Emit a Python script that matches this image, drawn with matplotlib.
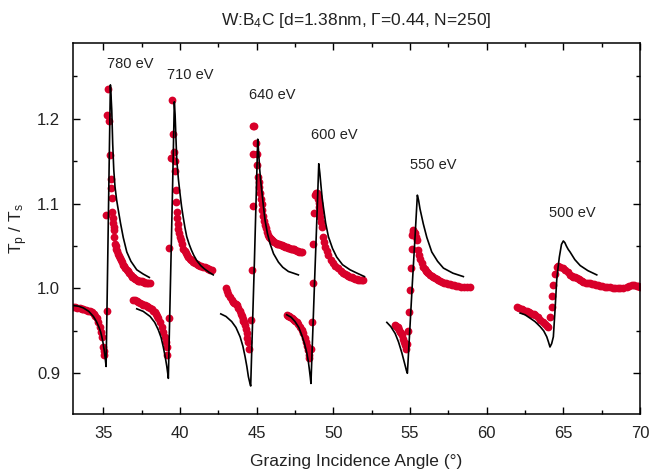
import matplotlib
matplotlib.use("Agg")
import matplotlib.pyplot as plt
from matplotlib.ticker import MultipleLocator

plt.rcParams['font.family'] = ['Liberation Sans', 'DejaVu Sans']
plt.rcParams['mathtext.fontset'] = 'custom'
plt.rcParams['mathtext.rm'] = 'Liberation Sans'
plt.rcParams['mathtext.it'] = 'Liberation Sans'

energies = ["780 eV", "710 eV", "640 eV", "600 eV", "550 eV", "500 eV"]
label_x = [36.74, 40.65, 46.04, 50.05, 56.5, 65.6]
label_y = [1.265, 1.252, 1.228, 1.181, 1.145, 1.0885]

# ---- theory (black lines) ----
fit_780_x = [33.0, 33.4, 33.7, 34.05, 34.35, 34.55, 34.7, 34.82, 34.9, 34.98, 35.05, 35.12, 35.18, 35.25, 35.32, 35.40, 35.46,
             35.50, 35.55, 35.61, 35.68, 35.76, 35.87, 35.98, 36.12, 36.3, 36.53, 36.8, 37.18, 37.6, 38.0]
fit_780_y = [0.980, 0.979, 0.977, 0.973, 0.967, 0.961, 0.955, 0.949, 0.943, 0.936, 0.928, 0.918, 0.908, 0.990, 1.074, 1.170, 1.240,
             1.228, 1.210, 1.171, 1.140, 1.120, 1.104, 1.092, 1.077, 1.060, 1.043, 1.032, 1.022, 1.017, 1.013]

fit_710_x = [37.18, 37.6, 38.05, 38.35, 38.59, 38.77, 38.91, 39.03, 39.14, 39.2, 39.24, 39.34, 39.44, 39.54, 39.63, 39.68, 39.72,
             39.79, 39.9, 40.0, 40.1, 40.2, 40.32, 40.44, 40.6, 40.75, 40.9, 41.09, 41.35, 41.6, 41.9, 42.17]
fit_710_y = [0.976, 0.973, 0.967, 0.960, 0.951, 0.942, 0.931, 0.920, 0.908, 0.900, 0.894, 0.976, 1.057, 1.140, 1.220, 1.205, 1.185,
             1.151, 1.128, 1.112, 1.097, 1.085, 1.072, 1.061, 1.052, 1.045, 1.039, 1.033, 1.027, 1.023, 1.019, 1.016]

fit_640_x = [42.66, 43.0, 43.37, 43.65, 43.92, 44.1, 44.24, 44.36, 44.46, 44.55, 44.61, 44.73, 44.85, 44.96, 45.07, 45.13, 45.2,
             45.26, 45.33, 45.44, 45.55, 45.7, 45.87, 46.1, 46.42, 46.7, 47.07, 47.4, 47.72]
fit_640_y = [0.970, 0.967, 0.961, 0.954, 0.943, 0.932, 0.920, 0.908, 0.896, 0.889, 0.885, 0.958, 1.030, 1.103, 1.176, 1.160, 1.140,
             1.127, 1.116, 1.097, 1.080, 1.065, 1.053, 1.041, 1.031, 1.025, 1.020, 1.018, 1.016]

fit_600_x = [46.96, 47.25, 47.5, 47.75, 47.94, 48.12, 48.27, 48.37, 48.44, 48.5, 48.54, 48.67, 48.8, 48.93, 49.05, 49.12, 49.2,
             49.27, 49.35, 49.5, 49.68, 49.95, 50.22, 50.6, 51.09, 51.55, 52.03]
fit_600_y = [0.969, 0.966, 0.961, 0.954, 0.945, 0.935, 0.924, 0.914, 0.904, 0.895, 0.888, 0.954, 1.020, 1.084, 1.147, 1.136, 1.120,
             1.107, 1.096, 1.077, 1.061, 1.047, 1.037, 1.028, 1.022, 1.018, 1.014]

fit_550_x = [53.49, 53.75, 54.03, 54.25, 54.47, 54.6, 54.7, 54.77, 54.83, 54.99, 55.15, 55.32, 55.48, 55.56, 55.65, 55.76, 55.87,
             56.1, 56.42, 56.8, 57.18, 57.8, 58.48]
fit_550_y = [0.960, 0.955, 0.947, 0.937, 0.924, 0.915, 0.908, 0.903, 0.900, 0.952, 1.005, 1.058, 1.110, 1.104, 1.094, 1.085, 1.076,
             1.060, 1.043, 1.032, 1.024, 1.018, 1.014]

fit_500_x = [62.18, 62.5, 62.83, 63.15, 63.49, 63.72, 63.92, 64.03, 64.13, 64.24, 64.35, 64.46, 64.57, 64.66, 64.74, 64.88, 65.0,
             65.1, 65.2, 65.32, 65.44, 65.75, 66.1, 66.6, 67.18]
fit_500_y = [0.971, 0.969, 0.965, 0.961, 0.955, 0.950, 0.943, 0.937, 0.931, 0.935, 0.943, 0.975, 1.010, 1.025, 1.037, 1.052, 1.056,
             1.054, 1.050, 1.046, 1.043, 1.034, 1.027, 1.021, 1.016]

# ---- measurements (red dots) ----
meas_780_x = [33.04, 33.17, 33.3, 33.45, 33.58, 33.7, 33.85, 34.0, 34.12, 34.24, 34.36, 34.47, 34.57, 34.68, 34.78, 34.86, 34.93,
              35.0, 35.04, 35.07, 35.22, 35.18, 35.33, 35.26, 35.37, 35.44, 35.48, 35.51, 35.55, 35.59, 35.62, 35.65, 35.68,
              35.70, 35.72, 35.76, 35.8, 35.85, 35.92, 35.98, 36.04, 36.1, 36.15, 36.2, 36.28, 36.35, 36.44, 36.53, 36.62,
              36.7, 36.78, 36.85, 36.92, 37.0, 37.09, 37.18, 37.27, 37.35, 37.42, 37.5, 37.58, 37.65, 37.74, 37.83, 37.94,
              38.05]
meas_780_y = [0.978, 0.978, 0.977, 0.977, 0.976, 0.976, 0.975, 0.974, 0.973, 0.972, 0.970, 0.968, 0.965, 0.960, 0.955, 0.949, 0.943,
              0.931, 0.926, 0.922, 0.974, 1.087, 1.235, 1.205, 1.197, 1.157, 1.129, 1.118, 1.107, 1.090, 1.083, 1.077, 1.073,
              1.069, 1.061, 1.053, 1.050, 1.047, 1.044, 1.041, 1.038, 1.036, 1.033, 1.031, 1.028, 1.026, 1.024, 1.022, 1.020,
              1.018, 1.016, 1.014, 1.013, 1.012, 1.011, 1.010, 1.009, 1.009, 1.009, 1.009, 1.008, 1.008, 1.007, 1.007, 1.007,
              1.007]

meas_710_x = [36.96, 37.07, 37.18, 37.28, 37.39, 37.5, 37.6, 37.72, 37.83, 37.94, 38.05, 38.16, 38.26, 38.36, 38.45, 38.52, 38.59,
              38.7, 38.81, 38.92, 39.02, 39.08, 39.14, 39.18, 39.29, 39.31, 39.40, 39.46, 39.57, 39.61, 39.65, 39.68, 39.72,
              39.74, 39.79, 39.82, 39.85, 39.9, 39.94, 40.0, 40.05, 40.13, 40.22, 40.3, 40.38, 40.46, 40.54, 40.62, 40.7,
              40.78, 40.87, 40.98, 41.1, 41.2, 41.31, 41.4, 41.5, 41.62, 41.74, 41.82, 41.9, 41.98, 42.07]
meas_710_y = [0.986, 0.986, 0.985, 0.984, 0.983, 0.982, 0.981, 0.980, 0.979, 0.978, 0.977, 0.976, 0.974, 0.972, 0.970, 0.968, 0.965,
              0.960, 0.955, 0.949, 0.943, 0.937, 0.931, 0.922, 0.965, 1.048, 1.154, 1.222, 1.182, 1.161, 1.150, 1.139, 1.116,
              1.102, 1.090, 1.083, 1.076, 1.070, 1.065, 1.061, 1.057, 1.052, 1.047, 1.044, 1.042, 1.040, 1.037, 1.035, 1.034,
              1.033, 1.031, 1.030, 1.029, 1.028, 1.027, 1.026, 1.025, 1.025, 1.024, 1.023, 1.023, 1.022, 1.022]

meas_640_x = [43.0, 43.08, 43.15, 43.26, 43.37, 43.46, 43.55, 43.62, 43.7, 43.81, 43.92, 43.98, 44.03, 44.09, 44.14, 44.19, 44.24,
              44.3, 44.35, 44.4, 44.46, 44.52, 44.63, 44.68, 44.74, 44.78, 44.85, 44.94, 44.78, 45.0, 45.05, 45.11, 45.15,
              45.18, 45.22, 45.27, 45.32, 45.37, 45.42, 45.48, 45.55, 45.61, 45.68, 45.76, 45.82, 45.87, 45.92, 45.98, 46.06,
              46.15, 46.23, 46.31, 46.4, 46.48, 46.56, 46.64, 46.72, 46.8, 46.88, 46.96, 47.05, 47.13, 47.21, 47.29, 47.37,
              47.45, 47.53, 47.61, 47.7, 47.78, 47.86, 47.94]
meas_640_y = [1.000, 0.997, 0.994, 0.990, 0.986, 0.984, 0.983, 0.982, 0.980, 0.977, 0.974, 0.970, 0.967, 0.964, 0.962, 0.960, 0.957,
              0.952, 0.947, 0.942, 0.937, 0.929, 0.963, 1.022, 1.097, 1.192, 1.192, 1.172, 1.159, 1.158, 1.145, 1.131, 1.125,
              1.120, 1.113, 1.106, 1.099, 1.092, 1.086, 1.080, 1.075, 1.071, 1.067, 1.063, 1.061, 1.060, 1.058, 1.057, 1.056,
              1.055, 1.054, 1.053, 1.052, 1.052, 1.051, 1.051, 1.050, 1.050, 1.049, 1.049, 1.048, 1.048, 1.047, 1.047, 1.046,
              1.046, 1.045, 1.044, 1.044, 1.043, 1.043, 1.043]

meas_600_x = [46.96, 47.04, 47.12, 47.2, 47.29, 47.37, 47.45, 47.53, 47.61, 47.72, 47.83, 47.94, 48.04, 48.13, 48.22, 48.28, 48.33,
              48.39, 48.44, 48.53, 48.59, 48.66, 48.70, 48.77, 48.83, 48.88, 48.94, 48.98, 49.03, 49.06, 49.09, 49.12, 49.16,
              49.2, 49.25, 49.31, 49.38, 49.46, 49.57, 49.68, 49.82, 49.96, 50.12, 50.29, 50.47, 50.65, 50.76, 50.87, 50.98,
              51.09, 51.2, 51.31, 51.42, 51.53, 51.64, 51.75, 51.86, 51.96]
meas_600_y = [0.969, 0.968, 0.967, 0.966, 0.965, 0.964, 0.963, 0.962, 0.961, 0.958, 0.955, 0.951, 0.947, 0.942, 0.937, 0.932, 0.927,
              0.922, 0.918, 0.929, 0.961, 1.006, 1.052, 1.089, 1.110, 1.112, 1.112, 1.109, 1.106, 1.101, 1.096, 1.090, 1.084,
              1.078, 1.072, 1.061, 1.055, 1.049, 1.044, 1.039, 1.034, 1.030, 1.027, 1.024, 1.021, 1.018, 1.017, 1.016, 1.015,
              1.014, 1.013, 1.012, 1.011, 1.011, 1.010, 1.010, 1.010, 1.010]

meas_550_x = [54.03, 54.09, 54.14, 54.19, 54.24, 54.3, 54.36, 54.42, 54.47, 54.55, 54.62, 54.69, 54.75, 54.83, 54.90, 54.96, 55.00,
              55.05, 55.11, 55.16, 55.19, 55.22, 55.27, 55.33, 55.38, 55.44, 55.50, 55.57, 55.65, 55.76, 55.87, 55.95, 56.03,
              56.12, 56.2, 56.31, 56.42, 56.53, 56.64, 56.75, 56.85, 56.96, 57.07, 57.2, 57.35, 57.48, 57.62, 57.76, 57.9,
              58.03, 58.16, 58.33, 58.5, 58.7, 58.92]
meas_550_y = [0.957, 0.956, 0.955, 0.954, 0.953, 0.951, 0.949, 0.947, 0.945, 0.941, 0.937, 0.933, 0.929, 0.935, 0.950, 0.972, 0.998,
              1.024, 1.047, 1.063, 1.067, 1.069, 1.067, 1.065, 1.061, 1.057, 1.045, 1.040, 1.035, 1.030, 1.025, 1.023, 1.021,
              1.019, 1.018, 1.016, 1.015, 1.013, 1.012, 1.011, 1.010, 1.009, 1.008, 1.007, 1.006, 1.005, 1.005, 1.004, 1.004,
              1.003, 1.003, 1.002, 1.002, 1.002, 1.002]

meas_500_x = [61.97, 62.13, 62.29, 62.4, 62.5, 62.62, 62.73, 62.84, 62.95, 63.06, 63.16, 63.32, 63.49, 63.65, 63.82, 63.93, 64.03,
              64.14, 64.25, 64.29, 64.35, 64.46, 64.57, 64.68, 64.79, 64.95, 65.12, 65.28, 65.44, 65.55, 65.66, 65.77, 65.88,
              65.99, 66.1, 66.2, 66.31, 66.45, 66.6, 66.73, 66.86, 67.0, 67.13, 67.26, 67.4, 67.55, 67.7, 67.88, 68.05, 68.22,
              68.4, 68.55, 68.71, 68.92, 69.14, 69.3, 69.47, 69.63, 69.8, 69.9, 70.0]
meas_500_y = [0.978, 0.977, 0.976, 0.975, 0.974, 0.973, 0.972, 0.971, 0.970, 0.970, 0.969, 0.966, 0.963, 0.960, 0.958, 0.956, 0.955,
              0.966, 0.978, 0.991, 1.004, 1.017, 1.025, 1.026, 1.025, 1.024, 1.022, 1.019, 1.016, 1.015, 1.014, 1.013, 1.012,
              1.011, 1.010, 1.009, 1.008, 1.007, 1.006, 1.006, 1.005, 1.005, 1.004, 1.004, 1.003, 1.003, 1.002, 1.002, 1.002,
              1.001, 1.001, 1.001, 1.001, 1.001, 1.002, 1.003, 1.004, 1.004, 1.003, 1.003, 1.002]

fits = [(fit_780_x, fit_780_y), (fit_710_x, fit_710_y), (fit_640_x, fit_640_y),
        (fit_600_x, fit_600_y), (fit_550_x, fit_550_y), (fit_500_x, fit_500_y)]
meas = [(meas_780_x, meas_780_y), (meas_710_x, meas_710_y), (meas_640_x, meas_640_y),
        (meas_600_x, meas_600_y), (meas_550_x, meas_550_y), (meas_500_x, meas_500_y)]

fig = plt.figure(figsize=(6.5, 4.74), dpi=100)
ax = fig.add_axes([0.1118, 0.1266, 0.8728, 0.782])

red = '#d8002a'
for mx, my in meas:
    ax.plot(mx, my, 'o', color=red, ms=5.6, mec='none', zorder=2)
for fx, fy in fits:
    ax.plot(fx, fy, '-', color='black', lw=1.2, zorder=3)

for lab, lx, ly in zip(energies, label_x, label_y):
    ax.text(lx, ly, lab, ha='center', va='center', fontsize=10.5, color='#222222')

ax.set_xlim(33, 70)
ax.set_ylim(0.852, 1.289)
ax.xaxis.set_major_locator(MultipleLocator(5))
ax.xaxis.set_minor_locator(MultipleLocator(2.5))
ax.yaxis.set_minor_locator(MultipleLocator(0.05))
ax.set_yticks([0.9, 1.0, 1.1, 1.2])
ax.set_yticklabels(['0.9', '1.0', '1.1', '1.2'])
ax.tick_params(which='both', direction='in', top=True, right=True, width=1.0, labelsize=12,
               colors='black', labelcolor='#222222')
ax.tick_params(which='major', length=5, pad=9)
ax.tick_params(which='minor', length=3)
for s in ax.spines.values():
    s.set_linewidth(1.1)

ax.set_xlabel('Grazing Incidence Angle (°)', fontsize=12.5, color='#222222', labelpad=9)
ax.set_ylabel(r'T$_\mathrm{p}$ / T$_\mathrm{s}$', fontsize=12.5, color='#222222', labelpad=5)
ax.set_title(r'W:B$_4$C [d=1.38nm, Γ=0.44, N=250]', fontsize=12.5, color='#222222', pad=13)

fig.savefig('out.png', dpi=100)
